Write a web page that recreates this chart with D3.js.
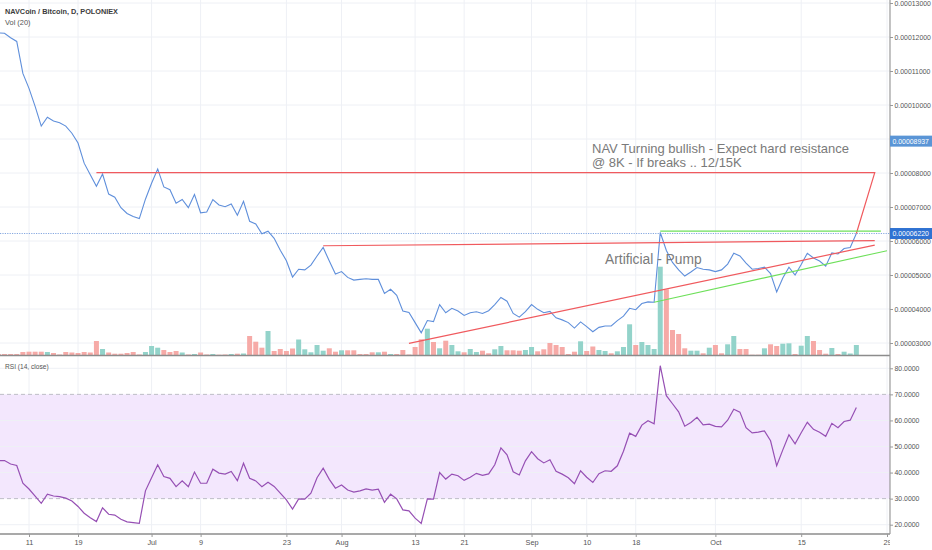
<!DOCTYPE html>
<html>
<head>
<meta charset="utf-8">
<script src="https://cdn.jsdelivr.net/npm/d3@7"></script>
<style>
body{margin:0;background:#fff;}
svg{display:block;font-family:"Liberation Sans",Arial,sans-serif;}
</style>
</head>
<body>
<div id="plot"></div>
<script>
// daily data, first day 2018-06-06, prices in satoshi (1e-8 BTC)
var startDay = '2018-06-06';
var closes = [
	12120,12110,11980,11870,10930,10490,9960,9380,9640,9530,
	9480,9380,9170,8880,8290,7950,7610,7970,7380,7290,
	6980,6810,6720,6660,7230,7700,8120,7590,7510,7110,
	7220,6980,7370,6830,6850,7220,7060,7010,7090,6760,
	7170,6580,6500,6210,6290,6080,5730,5420,4940,5170,
	5150,5290,5560,5810,5410,5030,5100,4930,4850,4870,
	4890,4870,4870,4460,4580,4400,3940,3900,3600,3300,
	3660,3630,4130,3890,4020,3940,3810,3890,3920,3870,
	3950,4130,4340,4230,3870,3760,3920,4130,3990,3890,
	3930,3740,3680,3600,3440,3620,3480,3330,3460,3500,
	3500,3660,3790,4020,3980,4160,4210,4200,6250,5720,
	5370,5150,4970,5090,5220,5170,5150,5100,5150,5320,
	5640,5560,5350,5170,5190,5230,5040,4500,4910,5230,
	5000,5310,5640,5500,5410,5260,5650,5620,5780,5810,
	6220
];
var volumes = [
	1,1,1,1,3,3.3,3.3,3.3,3,2,
	0.5,3,2.5,2,3,2.5,14,6,2.5,1.3,
	1.3,2,3,0.5,3,9,7.3,5,3,4,
	2.5,0.5,1,2.5,0.5,1,0.3,0.5,1,1.3,
	1.5,19,13.3,7.3,24,4,6,4,6.5,15.5,
	5.7,2.7,10,4.3,6.7,3.3,4.7,4.7,4.7,1,
	1,2.7,2.7,3.3,1,1,5,0.5,8,15.7,
	26.3,13,6.7,14.3,10,3.7,2.7,6,3,4.3,
	1.7,5.7,9,4.7,4.7,4.3,5,8,3.7,5.7,
	12,10,8,1,3.3,13.7,4,8.5,5,4,
	1.7,3.7,8,30.7,10,13,10,6,88.3,65.7,
	25,21,6.7,4.3,4.3,1.7,7.3,10,1.7,10.7,
	19,6,6,0.3,0.3,6.7,10.7,9,11.3,11.7,
	1,9.3,19,14,5,1.3,7,1,3.3,1.5,
	10
];
// g = up day, r = down day
var volDir = 'rrrrrrrrgr' + 'rrrrrrrgrr' + 'rrrrgggrrr' + 'grgrrgrrgr' + 'grrrgrrrrg' +
	'ggggrrgrrr' + 'rrgrgrrrrr' + 'grgrggrggr' + 'rggrrrggrr' + 'rrrrrgrrgg' +
	'rgggrggggr' + 'rrrggrgrrg' + 'grrrrgrrgg' + 'rggrrrgrgg' + 'g';
var rsi = [
	44.6,44.6,43.3,42.7,35.9,33.7,31.0,28.2,31.7,31.0,
	30.8,30.2,29.1,27.0,24.4,22.7,21.2,26.5,24.0,23.7,
	22.1,21.1,20.8,20.5,33.0,38.0,43.0,38.5,37.8,34.6,
	36.8,34.6,40.2,35.9,35.9,41.3,39.8,39.4,40.4,36.9,
	43.6,37.8,36.8,34.6,36.3,34.7,32.1,29.5,26.0,29.9,
	29.8,32.1,38.0,41.7,37.4,34.0,35.2,33.3,32.5,33.0,
	33.7,33.3,33.6,28.6,31.7,29.9,25.7,25.3,22.5,20.5,
	29.9,29.8,40.0,37.5,39.4,38.8,37.0,38.2,39.7,38.9,
	39.5,43.0,49.5,46.8,40.3,39.1,44.5,48.0,45.3,43.7,
	44.9,40.5,39.4,38.0,35.7,40.7,38.2,36.2,39.6,40.7,
	40.5,42.6,48.2,55.1,53.9,58.2,59.9,58.7,81.0,69.5,
	66.4,63.3,57.8,59.2,61.2,58.3,58.6,57.7,57.5,60.1,
	64.3,63.2,57.2,55.2,55.5,56.0,52.2,42.6,48.7,54.5,
	51.0,55.3,59.3,56.6,55.5,53.9,58.9,57.2,59.6,60.1,
	65.0
];

// axes
var tickDates = ['2018-06-11','2018-06-19','2018-07-01','2018-07-09','2018-07-23','2018-08-01','2018-08-13',
	'2018-08-21','2018-09-01','2018-09-10','2018-09-18','2018-10-01','2018-10-15','2018-10-29'];
var tickLabels = ['11','19','Jul','9','23','Aug','13','21','Sep','10','18','Oct','15','29'];
var priceGrid = [3000,4000,5000,6000,7000,8000,9000,10000,11000,12000,13000];
var priceTicks = [3000,4000,5000,6000,7000,8000,10000,11000,12000,13000];
var rsiTicks = [20,30,40,50,60,70,80];
var rsiBand = [30,70];
var priceMarks = [8937,6220];

// drawn trend lines (date, price)
var redLines = [
	[['2018-06-22',8010],['2018-10-27',8010],['2018-10-24',6220]],
	[['2018-07-29',5860],['2018-10-27',6010]],
	[['2018-08-12',2990],['2018-10-27',5880]]
];
var greenLines = [
	[['2018-09-22',6290],['2018-10-28',6290]],
	[['2018-09-21',4200],['2018-10-29',5715]]
];

//Set up the drawing environment here
var W = 932, H = 550;
var paneR = 890, mainB = 355, rsiT = 356, rsiB = 534;

var svg = d3.select('#plot')
	.append('svg')
	.attr('width',W)
	.attr('height',H);

var parse = d3.utcParse('%Y-%m-%d');
var day0 = parse(startDay);
var dates = closes.map(function(c,i){ return d3.utcDay.offset(day0,i); });

var x = d3.scaleUtc().domain([parse('2018-06-11'),parse('2018-10-29')]).range([29,887]);
var y = d3.scaleLinear().domain([3000,13000]).range([343,3]);
var yVol = d3.scaleLinear().domain([0,100]).range([mainB,mainB-100]);
var yRsi = d3.scaleLinear().domain([20,80]).range([524.7,368.3]);

var defs = svg.append('defs');
defs.append('clipPath').attr('id','clipMain')
	.append('rect').attr('x',0).attr('y',0).attr('width',paneR).attr('height',mainB);
defs.append('clipPath').attr('id','clipRsi')
	.append('rect').attr('x',0).attr('y',rsiT).attr('width',paneR).attr('height',rsiB-rsiT);
// used inside the translated time axis group
defs.append('clipPath').attr('id','clipAxis')
	.append('rect').attr('x',0).attr('y',0).attr('width',paneR).attr('height',H-rsiB);

var gridColor = '#eef0f5';

// grid
var grid = svg.append('g');
tickDates.forEach(function(t){
	grid.append('line')
		.attr('x1',x(parse(t))).attr('x2',x(parse(t)))
		.attr('y1',0).attr('y2',rsiB)
		.style('stroke',gridColor);
});
priceGrid.forEach(function(p){
	grid.append('line')
		.attr('x1',0).attr('x2',paneR)
		.attr('y1',y(p)).attr('y2',y(p))
		.style('stroke',gridColor);
});

// rsi band
var rsiG = svg.append('g').attr('clip-path','url(#clipRsi)');
rsiG.append('rect')
	.attr('x',0).attr('width',paneR)
	.attr('y',yRsi(rsiBand[1])).attr('height',yRsi(rsiBand[0])-yRsi(rsiBand[1]))
	.style('fill','#f3e7fd');
rsiTicks.forEach(function(v){
	var dashed = rsiBand.indexOf(v) >= 0;
	rsiG.append('line')
		.attr('x1',0).attr('x2',paneR)
		.attr('y1',yRsi(v)).attr('y2',yRsi(v))
		.style('stroke',dashed ? '#bdbdc6' : gridColor)
		.style('stroke-dasharray',dashed ? '4,3' : null);
});
rsiG.append('path')
	.datum(rsi)
	.attr('d',d3.line().x(function(d,i){ return x(dates[i]); }).y(function(d){ return yRsi(d); }))
	.style('fill','none')
	.style('stroke','#9650b4')
	.style('stroke-width',1.2);

// main pane
var main = svg.append('g').attr('clip-path','url(#clipMain)');
main.selectAll('rect.vol')
	.data(volumes)
	.enter()
	.append('rect')
	.attr('class','vol')
	.attr('x',function(d,i){ return x(dates[i]) - 2.5; })
	.attr('width',5)
	.attr('y',function(d){ return yVol(d); })
	.attr('height',function(d){ return mainB - yVol(d); })
	.style('fill',function(d,i){ return volDir[i] == 'g' ? '#93d3ca' : '#f6aaa7'; });

main.append('line')
	.attr('x1',0).attr('x2',paneR)
	.attr('y1',y(closes[closes.length-1])).attr('y2',y(closes[closes.length-1]))
	.style('stroke','#86a8e0')
	.style('stroke-width',1.2)
	.style('stroke-dasharray','1.2,1.2');

main.append('path')
	.datum(closes)
	.attr('d',d3.line().x(function(d,i){ return x(dates[i]); }).y(function(d){ return y(d); }))
	.style('fill','none')
	.style('stroke','#5f8fdb')
	.style('stroke-width',1.1);

var trend = d3.line().x(function(d){ return x(parse(d[0])); }).y(function(d){ return y(d[1]); });
redLines.forEach(function(l){
	main.append('path').attr('d',trend(l))
		.style('fill','none').style('stroke','#f05a5e').style('stroke-width',1.2);
});
greenLines.forEach(function(l){
	main.append('path').attr('d',trend(l))
		.style('fill','none').style('stroke','#6ee05a').style('stroke-width',1.1);
});

// notes
var noteStyle = function(t){ return t.style('fill','#7a7a7a').style('font-size','13px'); };
noteStyle(svg.append('text').attr('x',592).attr('y',153).text('NAV Turning bullish - Expect hard resistance'));
noteStyle(svg.append('text').attr('x',592).attr('y',166.5).text('@ 8K - If breaks .. 12/15K'));
noteStyle(svg.append('text').attr('x',605).attr('y',264).text('Artificial - Pump')).style('font-size','13.8px');

// titles
svg.append('text').attr('x',5).attr('y',13.5)
	.text('NAVCoin / Bitcoin, D, POLONIEX')
	.style('font-size','7.3px').style('fill','#3c3c3c').style('font-weight','bold');
svg.append('text').attr('x',5).attr('y',25)
	.text('Vol (20)')
	.style('font-size','7.4px').style('fill','#555');
svg.append('text').attr('x',5).attr('y',369)
	.text('RSI (14, close)')
	.style('font-size','6.6px').style('fill','#555');

// pane borders
svg.append('line').attr('x1',0).attr('x2',paneR).attr('y1',mainB+0.5).attr('y2',mainB+0.5)
	.style('stroke','#8c8c8c').style('stroke-width',1.5);
svg.append('line').attr('x1',0).attr('x2',paneR).attr('y1',rsiB).attr('y2',rsiB)
	.style('stroke','#8c8c8c').style('stroke-width',1.5);
svg.append('line').attr('x1',paneR).attr('x2',paneR).attr('y1',0).attr('y2',rsiB)
	.style('stroke','#9a9a9a').style('stroke-width',1.2);

// axes
var priceAxis = svg.append('g')
	.attr('transform','translate('+paneR+',0)')
	.call(d3.axisRight(y).tickValues(priceTicks).tickSize(3).tickPadding(1.5)
		.tickFormat(function(d){ return d3.format('.8f')(d/1e8); }));
var rsiAxis = svg.append('g')
	.attr('transform','translate('+paneR+',0)')
	.call(d3.axisRight(yRsi).tickValues(rsiTicks).tickSize(3).tickPadding(1.5)
		.tickFormat(d3.format('.4f')));
var timeAxis = svg.append('g')
	.attr('transform','translate(0,'+rsiB+')')
	.attr('clip-path','url(#clipAxis)')
	.call(d3.axisBottom(x).tickValues(tickDates.map(parse)).tickSize(3).tickPadding(3)
		.tickFormat(function(d,i){ return tickLabels[i]; }));
[priceAxis,rsiAxis,timeAxis].forEach(function(a){
	a.select('.domain').remove();
	a.selectAll('line').style('stroke','#999');
	a.selectAll('text').style('fill','#555').style('font-size','6.9px')
		.style('font-family','"Liberation Sans",Arial,sans-serif');
});
timeAxis.selectAll('text').style('font-size','7.3px');

// price marker labels
var markColors = ['#5a95d6','#2f72d2'];
priceMarks.forEach(function(p,i){
	svg.append('rect')
		.attr('x',paneR).attr('y',y(p)-5.5).attr('width',W-paneR).attr('height',11)
		.style('fill',markColors[i]);
	svg.append('text')
		.attr('x',paneR+2.5).attr('y',y(p)+2.5)
		.text(d3.format('.8f')(p/1e8))
		.style('fill','#fff').style('font-size','6.9px');
});
</script>
</body>
</html>
